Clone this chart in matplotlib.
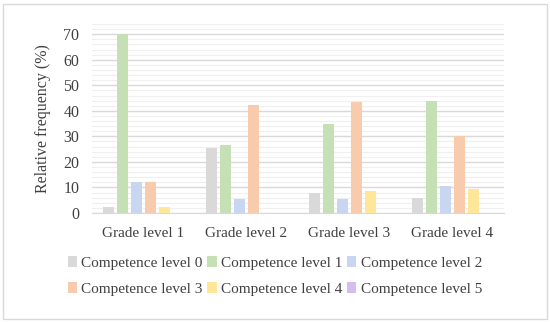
import matplotlib
matplotlib.use("Agg")
import matplotlib.pyplot as plt
from matplotlib.patches import Rectangle
import numpy as np

grades = ["Grade level 1", "Grade level 2", "Grade level 3", "Grade level 4"]
levels = ["Competence level 0", "Competence level 1", "Competence level 2",
          "Competence level 3", "Competence level 4", "Competence level 5"]
level0 = [2.5, 25.3, 8.0, 6.0]
level1 = [70.0, 26.7, 34.8, 44.0]
level2 = [12.0, 5.5, 5.4, 10.7]
level3 = [12.0, 42.2, 43.3, 30.0]
level4 = [2.5, 0.0, 8.6, 9.3]
level5 = [0.0, 0.0, 0.0, 0.0]
series = [level0, level1, level2, level3, level4, level5]
colors = ["#d9d9d9", "#c5e0b4", "#c9d6f1", "#f8cbad", "#ffe699", "#d5bdf0"]

plt.rcParams['font.family'] = ['Liberation Serif', 'DejaVu Serif']

fig = plt.figure(figsize=(5.5, 3.22), dpi=100)
ax = fig.add_axes([92/550, 1 - 213/322, (504 - 92)/550, (213 - 24)/322])

x = np.arange(len(grades))
step = 0.136
width = 0.102
bars = []
for i, vals in enumerate(series):
    b = ax.bar(x + (i - 2.5) * step, vals, width, color=colors[i], label=levels[i], zorder=3)
    bars.append(b)

ax.set_xlim(-0.5, 3.5)
ax.set_ylim(0, 74)
ax.set_yticks(range(0, 71, 10))
ax.set_yticks(range(0, 75, 2), minor=True)
ax.grid(axis='y', which='major', color='#d9d9d9', linewidth=1.0, zorder=0)
ax.grid(axis='y', which='minor', color='#efefef', linewidth=0.8, zorder=0)
ax.tick_params(axis='y', which='both', length=0, labelsize=11.5, colors='#404040', pad=9)
ax.tick_params(axis='x', length=0, labelsize=11, colors='#404040', pad=10)
ax.set_xticks(x)
ax.set_xticklabels(grades)
for s in ['top', 'right', 'left']:
    ax.spines[s].set_visible(False)
ax.spines['bottom'].set_color('#d9d9d9')
ax.set_ylabel("Relative frequency (%)", fontsize=11.5, color='#404040', labelpad=9)

# row-wise legend order
order = [0, 3, 1, 4, 2, 5]
fig.legend([bars[i] for i in order], [levels[i] for i in order],
           loc='center', bbox_to_anchor=(0.5, 1 - 276/322), ncol=3, frameon=False,
           fontsize=11, handlelength=0.6, handleheight=0.7, handletextpad=0.3,
           columnspacing=0.3, labelspacing=0.85, labelcolor='#404040')

fig.patches.append(Rectangle((3/550, 3/322), 544/550, 315/322, transform=fig.transFigure,
                             fill=False, edgecolor='#d9d9d9', linewidth=1))

fig.savefig("out.png", dpi=100)
